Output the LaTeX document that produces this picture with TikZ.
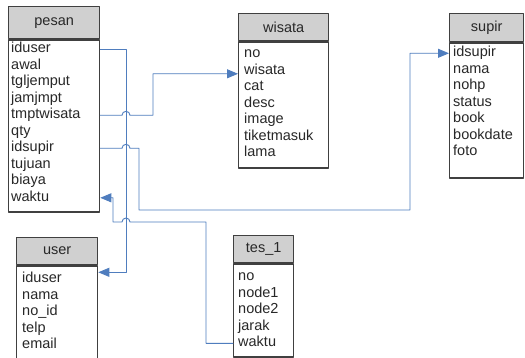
\documentclass[tikz,border=0pt]{standalone}
\usepackage{fontspec}
\setmainfont{Liberation Sans}
\usetikzlibrary{arrows.meta}

\definecolor{tblline}{RGB}{64,64,64}
\definecolor{tblgray}{RGB}{208,208,208}
\definecolor{tbltext}{RGB}{40,40,40}
\definecolor{linkblue}{RGB}{79,125,190}

\begin{document}
\begin{tikzpicture}[x=1pt, y=-1pt, line cap=round, line join=round,
  tblhead/.style={draw=tblline, fill=tblgray, text=tbltext, line width=1.3pt, anchor=north west,
    inner sep=0pt, font=\fontsize{14.5}{16}\selectfont},
  tblbody/.style={draw=tblline, fill=white, line width=1.3pt, anchor=north west, inner sep=0pt},
  field/.style={anchor=west, inner sep=0pt, text=tbltext, text height=10.5pt, text depth=3.5pt,
    font=\fontsize{14.5}{16}\selectfont},
  link/.style={draw=linkblue, line width=0.9pt},
  tip/.style={-{Triangle[length=11pt,width=9pt]}}]

%-----------------------
% 画布
%-----------------------
\def\rowsep{16.5}   % 行距
\def\hop{4}         % 跨线半径
\def\trunk{126}     % 竖干线 x
\clip (0,0) rectangle (525,358);
\fill[white] (0,0) rectangle (525,358);

%-----------------------
% 表 pesan
%-----------------------
\node[tblhead, minimum width=91pt, minimum height=32pt] (pesan) at (8,6) {pesan};
\node[tblbody, minimum width=91pt, minimum height=172pt] (pesanbody) at (pesan.south west) {};
\foreach \f [count=\i] in {iduser,awal,tgljemput,jamjmpt,tmptwisata,qty,idsupir,tujuan,biaya,waktu}
  \node[field] (pesan-\i) at ([xshift=3pt, yshift={-(10+\rowsep*(\i-1))}]pesanbody.north west) {\f};

%-----------------------
% 表 wisata
%-----------------------
\node[tblhead, minimum width=90pt, minimum height=27pt] (wisata) at (238,13) {wisata};
\node[tblbody, minimum width=90pt, minimum height=126pt] (wisatabody) at (wisata.south west) {};
\foreach \f [count=\i] in {no,wisata,cat,desc,image,tiketmasuk,lama}
  \node[field] (wisata-\i) at ([xshift=6pt, yshift={-(13+\rowsep*(\i-1))}]wisatabody.north west) {\f};

%-----------------------
% 表 supir
%-----------------------
\node[tblhead, minimum width=74pt, minimum height=28pt] (supir) at (449,13) {supir};
\node[tblbody, minimum width=74pt, minimum height=135pt] (supirbody) at (supir.south west) {};
\foreach \f [count=\i] in {idsupir,nama,nohp,status,book,bookdate,foto}
  \node[field] (supir-\i) at ([xshift=4pt, yshift={-(11+\rowsep*(\i-1))}]supirbody.north west) {\f};

%-----------------------
% 表 user
%-----------------------
\node[tblhead, minimum width=81pt, minimum height=27pt] (user) at (16,237) {user};
\node[tblbody, minimum width=81pt, minimum height=110pt] (userbody) at (user.south west) {};
\foreach \f [count=\i] in {iduser,nama,no\_id,telp,email}
  \node[field] (user-\i) at ([xshift=6pt, yshift={-(14+\rowsep*(\i-1))}]userbody.north west) {\f};

%-----------------------
% 表 tes_1
%-----------------------
\node[tblhead, minimum width=60pt, minimum height=27pt] (tes) at (233,235) {tes\_1};
\node[tblbody, minimum width=60pt, minimum height=93pt] (tesbody) at (tes.south west) {};
\foreach \f [count=\i] in {no,node1,node2,jarak,waktu}
  \node[field] (tes-\i) at ([xshift=5pt, yshift={-(14+\rowsep*(\i-1))}]tesbody.north west) {\f};

%-----------------------
% 连线
%-----------------------
% iduser -> user
\draw[link, tip] (pesan-1 -| pesanbody.east) -| ([yshift=7pt]user-1 -| \trunk,0)
  -- ([yshift=7pt]user-1 -| userbody.east);
% tmptwisata -> wisata
\draw[link, tip] (pesan-5 -| pesanbody.east) -- (pesan-5 -| 122,0)
  arc[start angle=180, end angle=360, radius=\hop]
  -| ([yshift=-3pt]wisata-2 -| 153,0) -- ([yshift=-3pt]wisata-2 -| wisatabody.west);
% idsupir -> supir
\draw[link, tip] (pesan-7 -| pesanbody.east) -- (pesan-7 -| 122,0)
  arc[start angle=180, end angle=360, radius=\hop]
  -| (139,210) -| (supir-1 -| 410,0) -- (supir-1 -| supirbody.west);
% tes_1.waktu -> pesan.waktu
\draw[link, tip] (tes-5 -| tesbody.west) -| (206,222) -- (130,222)
  arc[start angle=0, end angle=-180, radius=\hop]
  -| (pesan-10 -| 113,0) -- (pesan-10 -| pesanbody.east);

\end{tikzpicture}
\end{document}
